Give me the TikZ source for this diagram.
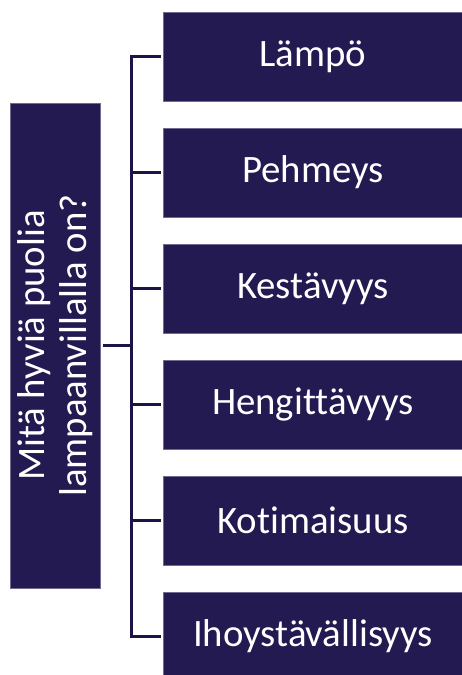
\documentclass[tikz,border=0pt]{standalone}
\usepackage{fontspec}
\setmainfont{Carlito}[Ligatures={NoCommon}]
\definecolor{navy}{HTML}{221A50}
\definecolor{lineclr}{HTML}{1C1446}
\definecolor{edgeclr}{HTML}{6F6A92}
\begin{document}
\begin{tikzpicture}[x=1pt,y=-1pt,
  box/.style={fill=navy, draw=edgeclr, line width=0.6pt, inner sep=0pt,
    minimum width=300pt, minimum height=89pt, text=white,
    font=\fontsize{38.8}{42}\selectfont},
  conn/.style={draw=lineclr, line width=3pt}]
\useasboundingbox (0,0) rectangle (462,675);
\clip (0,0) rectangle (462,675);
\node[box, rotate=90, minimum width=485pt, minimum height=90pt, align=center] (q) at (55,345.5)
  {Mitä hyviä puolia\\lampaanvillalla on?};
\node[box] (b1) at (313,56.5) {Lämpö};
\node[box] (b2) at (313,172.5) {Pehmeys};
\node[box] (b3) at (313,288.5) {Kestävyys};
\node[box] (b4) at (313,404.5) {Hengittävyys};
\node[box] (b5) at (313,520.5) {Kotimaisuus};
\node[box] (b6) at (313,636.5) {Ihoystävällisyys};
\coordinate (j) at (131.5,345.5);
\draw[conn] ([xshift=3pt]q.south) -- (j);
\draw[conn] ([xshift=-2pt]b1.west) -| (j) |- ([xshift=-2pt]b6.west);
\foreach \b in {b2,b3,b4,b5}
  \draw[conn] (j) |- ([xshift=-2pt]\b.west);
\end{tikzpicture}
\end{document}
